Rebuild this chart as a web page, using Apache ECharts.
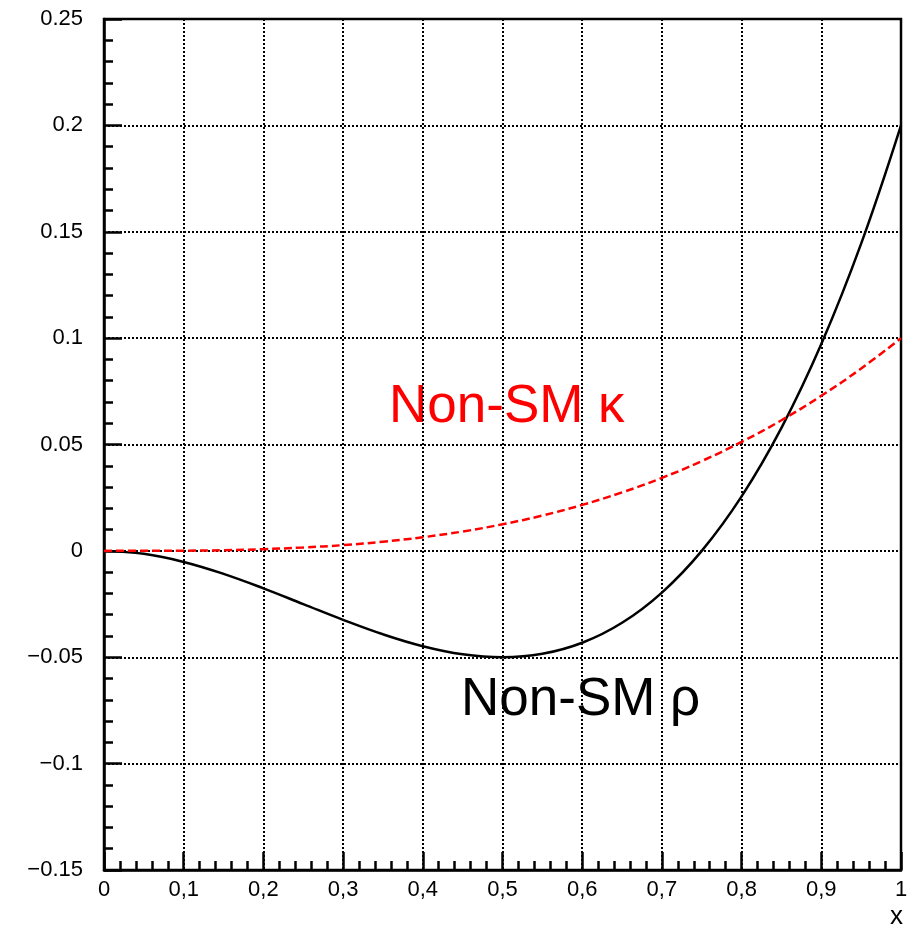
<!DOCTYPE html>
<html>
<head>
<meta charset="utf-8">
<script src="https://cdn.jsdelivr.net/npm/echarts@6/dist/echarts.min.js"></script>
<style>
  html, body { margin: 0; padding: 0; background: #fff; }
  #chart { width: 912px; height: 930px; }
</style>
</head>
<body>
<div id="chart"></div>
<script>
// x positions (read every 0.05)
var xVals = [0, 0.05, 0.1, 0.15, 0.2, 0.25, 0.3, 0.35, 0.4, 0.45, 0.5,
             0.55, 0.6, 0.65, 0.7, 0.75, 0.8, 0.85, 0.9, 0.95, 1];
// Non-SM rho (black solid)
var rhoVals = [0, -0.0014, -0.0052, -0.0108, -0.0176, -0.025, -0.0324, -0.0392, -0.0448, -0.0486, -0.05,
               -0.0484, -0.0432, -0.0338, -0.0196, 0, 0.0256, 0.0578, 0.0972, 0.1444, 0.2];
// Non-SM kappa (red dashed)
var kappaVals = [0, 0.00001, 0.0001, 0.0003, 0.0008, 0.0016, 0.0027, 0.0043, 0.0064, 0.0091, 0.0125,
                 0.0166, 0.0216, 0.0275, 0.0343, 0.0422, 0.0512, 0.0614, 0.0729, 0.0857, 0.1];

var fontName = '"Liberation Sans", Arial, sans-serif';

function pairs(ys) {
    var out = [];
    for (var i = 0; i < xVals.length; i++) out.push([xVals[i], ys[i]]);
    return out;
}

var myChart = echarts.init(document.getElementById('chart'));
var gridDash = [2, 2];

var option = {
    backgroundColor: '#fff',
    animation: false,
    grid: {
        left: 104, top: 19, right: 11, bottom: 60,
        show: true,
        borderColor: '#000',
        borderWidth: 2.5
    },
    xAxis: {
        type: 'value',
        min: 0, max: 1, interval: 0.1,
        name: 'x',
        nameLocation: 'end',
        nameGap: 2,
        nameTextStyle: {
            color: '#000', fontSize: 26, fontFamily: fontName,
            align: 'right', verticalAlign: 'top', padding: [34, 0, 0, 0]
        },
        axisLine: { onZero: false, lineStyle: { color: '#000', width: 2.5 } },
        axisTick: { inside: true, length: 18, lineStyle: { color: '#000', width: 2.5 } },
        minorTick: { show: true, splitNumber: 5, length: 9, lineStyle: { color: '#000', width: 2.5 } },
        axisLabel: {
            color: '#000', fontSize: 22, fontFamily: fontName, margin: 9,
            showMaxLabel: true,
            formatter: function (v) {
                return String(Math.round(v * 10) / 10).replace('.', ',');
            }
        },
        splitLine: { show: true, lineStyle: { color: '#000', width: 2, type: gridDash } }
    },
    yAxis: {
        type: 'value',
        min: -0.15, max: 0.25, interval: 0.05,
        axisLine: { onZero: false, lineStyle: { color: '#000', width: 2.5 } },
        axisTick: { inside: true, length: 18, lineStyle: { color: '#000', width: 2.5 } },
        minorTick: { show: true, splitNumber: 5, length: 9, lineStyle: { color: '#000', width: 2.5 } },
        axisLabel: {
            color: '#000', fontSize: 22, fontFamily: fontName, margin: 21,
            formatter: function (v) {
                var s = String(Math.round(v * 100) / 100);
                return s.replace('-', '\u2212');
            }
        },
        splitLine: { show: true, lineStyle: { color: '#000', width: 2, type: gridDash } }
    },
    series: [
        {
            name: 'Non-SM ρ',
            type: 'line',
            smooth: 0.4,
            showSymbol: false,
            lineStyle: { color: '#000', width: 2.5 },
            data: pairs(rhoVals)
        },
        {
            name: 'Non-SM κ',
            type: 'line',
            smooth: 0.4,
            showSymbol: false,
            lineStyle: { color: '#ff0000', width: 2.5, type: [8, 4] },
            data: pairs(kappaVals)
        }
    ],
    graphic: [
        {
            type: 'text', left: 389, top: 381,
            style: { text: 'Non-SM κ', fill: '#ff0000', font: '53px ' + fontName }
        },
        {
            type: 'text', left: 461, top: 674,
            style: { text: 'Non-SM ρ', fill: '#000', font: '53px ' + fontName }
        }
    ]
};

myChart.setOption(option);
window.addEventListener('resize', function () {
    myChart.resize();
});
</script>
</body>
</html>
